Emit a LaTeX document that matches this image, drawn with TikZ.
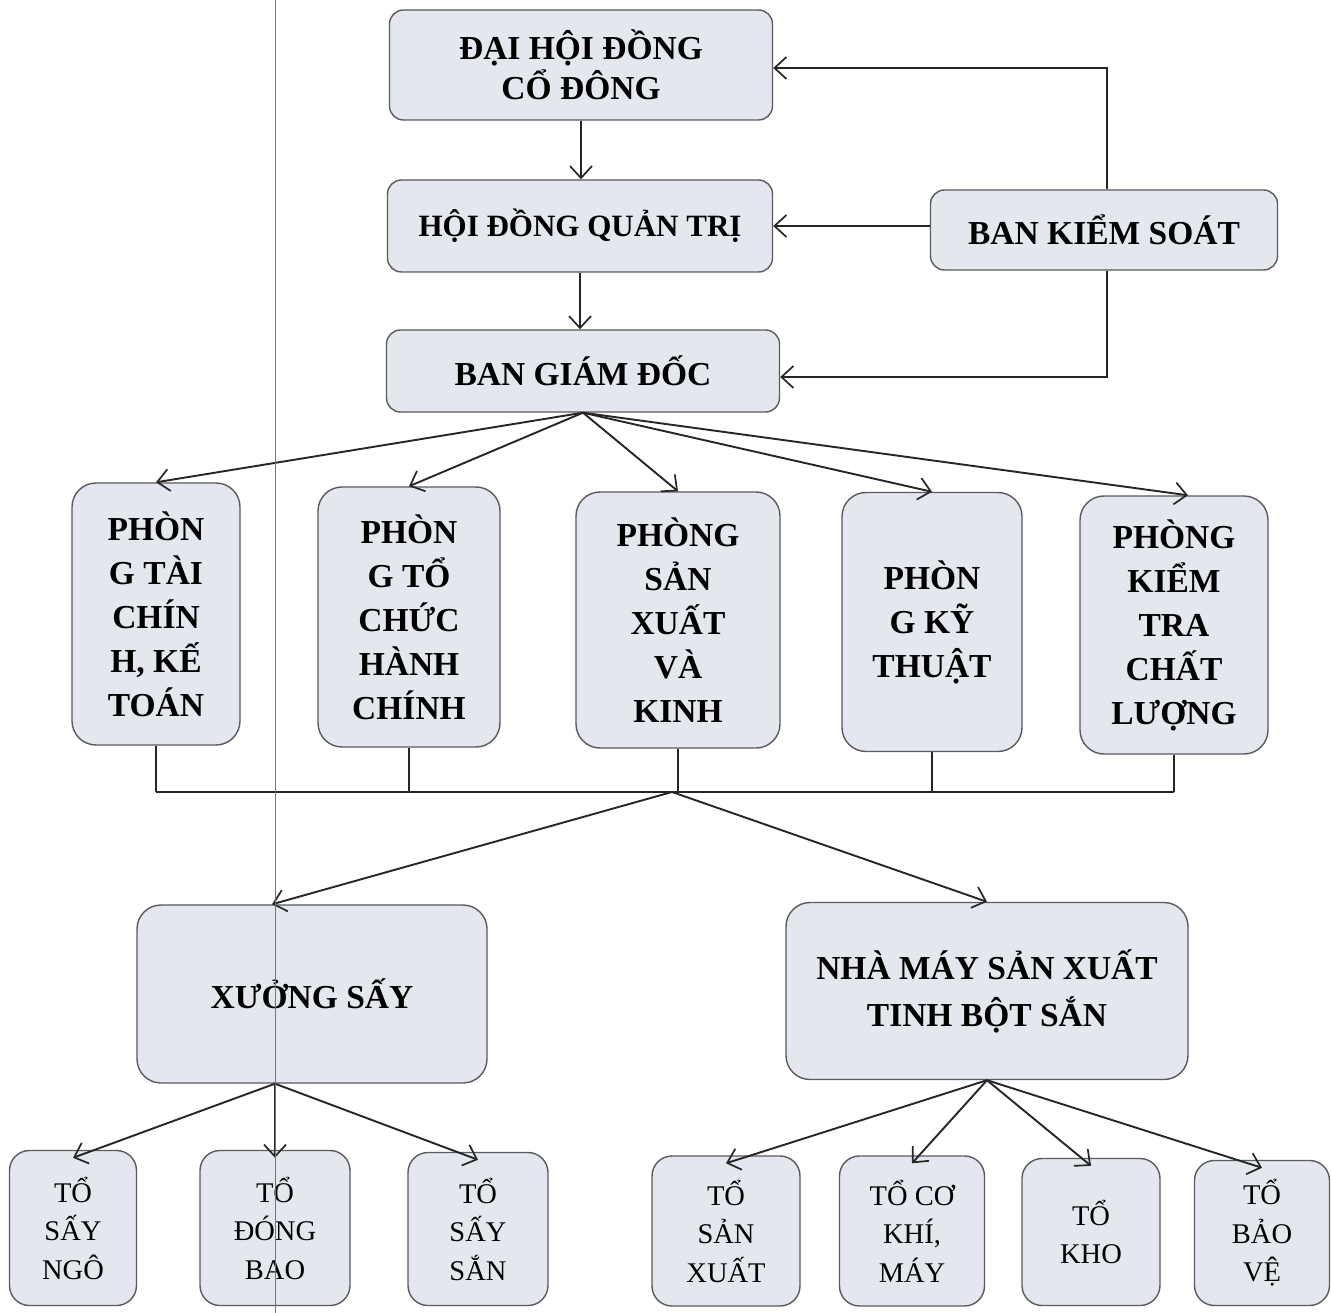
\documentclass[tikz,border=0pt]{standalone}
\usepackage{fontspec}
\setmainfont{Liberation Serif}
\usetikzlibrary{arrows.meta}
\definecolor{boxfill}{RGB}{228,232,238}
\definecolor{boxline}{RGB}{90,90,95}
\begin{document}
\begin{tikzpicture}[x=1pt,y=-1pt,
  box/.style={draw=boxline,line width=1.4pt,fill=boxfill,rounded corners=14pt,align=center,inner sep=0pt},
  topbox/.style={box,font=\fontsize{33.5}{40}\selectfont\bfseries},
  deptbox/.style={box,rounded corners=24pt,font=\fontsize{33.5}{44}\selectfont\bfseries},
  unitbox/.style={box,rounded corners=24pt,font=\fontsize{33.5}{47}\selectfont\bfseries},
  teambox/.style={box,rounded corners=20pt,font=\fontsize{28.5}{38.5}\selectfont},
  conn/.style={line width=1.9pt,draw=black!85},
  arr/.style={conn,-{Straight Barb[length=12pt,width=22pt,line width=1.7pt]}}]
\useasboundingbox (0,0) rectangle (1331,1313);
\fill[white] (0,0) rectangle (1331,1313);
% top boxes
\node[topbox,minimum width=383pt,minimum height=110pt] (dh) at (581,65) {ĐẠI HỘI ĐỒNG\\CỔ ĐÔNG};
\node[topbox,font=\fontsize{31}{40}\selectfont\bfseries,minimum width=385pt,minimum height=92pt] (hd) at (580,226) {HỘI ĐỒNG QUẢN TRỊ};
\node[topbox,minimum width=393pt,minimum height=82pt] (bgd) at (583,371) {BAN GIÁM ĐỐC};
\node[topbox,minimum width=347pt,minimum height=80pt] (bks) at (1104,230) {BAN KIỂM SOÁT};
% departments
\node[deptbox,minimum width=168pt,minimum height=262pt] (d1) at (156,614) {PHÒN\\G TÀI\\CHÍN\\H, KẾ\\TOÁN};
\node[deptbox,minimum width=182pt,minimum height=260pt] (d2) at (409,617) {PHÒN\\G TỔ\\CHỨC\\HÀNH\\CHÍNH};
\node[deptbox,minimum width=204pt,minimum height=256pt] (d3) at (678,620) {PHÒNG\\SẢN\\XUẤT\\VÀ\\KINH};
\node[deptbox,minimum width=180pt,minimum height=259pt] (d4) at (932,622) {PHÒN\\G KỸ\\THUẬT};
\node[deptbox,minimum width=188pt,minimum height=258pt] (d5) at (1174,625) {PHÒNG\\KIỂM\\TRA\\CHẤT\\LƯỢNG};
% units
\node[unitbox,minimum width=350pt,minimum height=178pt] (xs) at (312,994) {XƯỞNG SẤY};
\node[unitbox,minimum width=402pt,minimum height=177pt] (nm) at (987,991) {NHÀ MÁY SẢN XUẤT\\TINH BỘT SẮN};
% teams
\node[teambox,minimum width=127pt,minimum height=155pt] (b1) at (73,1228) {TỔ\\SẤY\\NGÔ};
\node[teambox,minimum width=150pt,minimum height=155pt] (b2) at (275,1228) {TỔ\\ĐÓNG\\BAO};
\node[teambox,minimum width=140pt,minimum height=153pt] (b3) at (478,1229) {TỔ\\SẤY\\SẮN};
\node[teambox,minimum width=148pt,minimum height=150pt] (b4) at (726,1231) {TỔ\\SẢN\\XUẤT};
\node[teambox,minimum width=145pt,minimum height=150pt] (b5) at (912,1231) {TỔ CƠ\\KHÍ,\\MÁY};
\node[teambox,minimum width=138pt,minimum height=147pt] (b6) at (1091,1232) {TỔ\\KHO};
\node[teambox,minimum width=135pt,minimum height=145pt] (b7) at (1262,1233) {TỔ\\BẢO\\VỆ};
% top connectors
\draw[arr] (dh.south) -- (dh.south |- hd.north);
\draw[arr] (hd.south) -- (hd.south |- bgd.north);
\draw[arr] (bks.west |- hd.east) -- (hd.east);
\draw[arr] ([xshift=3pt]bks.north) |- ([yshift=-3pt]dh.east);
\draw[arr] ([xshift=3pt]bks.south) |- ([yshift=-6pt]bgd.east);
% to departments
\foreach \d in {d1,d2,d3,d4} \draw[arr] (bgd.south) -- (\d.north);
\draw[arr] (bgd.south) -- ([xshift=14pt]d5.north);
% bus
\coordinate (bus) at (672,792);
\foreach \d in {d1,d2,d3,d4,d5} \draw[conn] (\d.south) -- (\d.south |- bus);
\draw[conn] (d1.south |- bus) -- (d5.south |- bus);
\draw[arr] (bus) -- ([xshift=-40pt]xs.north);
\draw[arr] (bus) -- (nm.north);
% teams
\coordinate (xsb) at ([xshift=-37pt]xs.south);
\foreach \b in {b1,b2,b3} \draw[arr] (xsb) -- ([yshift=-8pt]\b.north);
\foreach \b in {b4,b5,b6,b7} \draw[arr] (nm.south) -- ([yshift=-8pt]\b.north);
% scan line
\draw[black!55,line width=0.8pt] (275,0) -- (275,1313);
\end{tikzpicture}
\end{document}
